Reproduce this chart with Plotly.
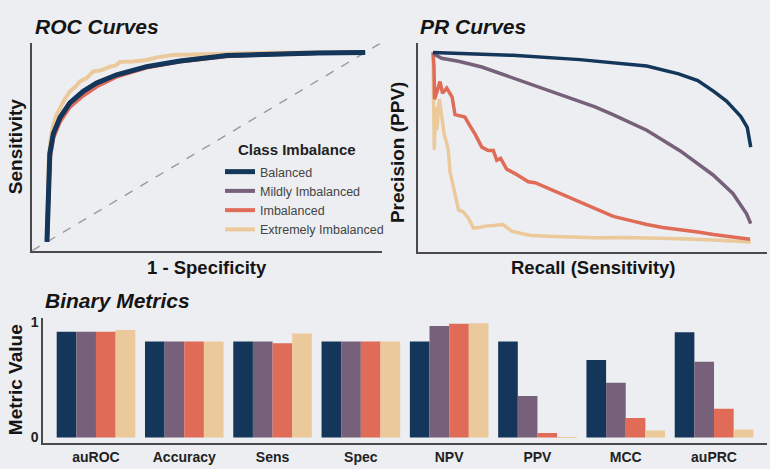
import plotly.graph_objects as go

# ---------------- data ----------------
series_names = ["Balanced", "Mildly Imbalanced", "Imbalanced", "Extremely Imbalanced"]
series_colors = ["#14365b", "#76607a", "#e06b57", "#ebc99b"]

# ROC curves (FPR, TPR)
roc_fpr_bal = [0, 0.002, 0.004, 0.009, 0.02, 0.041, 0.072, 0.114, 0.156, 0.219, 0.313, 0.418, 0.565, 0.69, 0.85, 1.0]
roc_tpr_bal = [0, 0.15, 0.29, 0.465, 0.57, 0.656, 0.734, 0.795, 0.839, 0.882, 0.925, 0.955, 0.983, 0.99, 0.997, 1.0]
roc_fpr_mild = [0, 0.002, 0.004, 0.009, 0.02, 0.041, 0.072, 0.114, 0.156, 0.219, 0.313, 0.418, 0.565, 0.69, 0.85, 1.0]
roc_tpr_mild = [0, 0.16, 0.30, 0.47, 0.575, 0.66, 0.735, 0.79, 0.835, 0.88, 0.923, 0.955, 0.982, 0.99, 0.997, 1.0]
roc_fpr_imb = [0, 0.002, 0.004, 0.009, 0.02, 0.041, 0.072, 0.114, 0.156, 0.19, 0.219, 0.313, 0.418, 0.565, 0.69, 0.85, 1.0]
roc_tpr_imb = [0, 0.14, 0.27, 0.44, 0.55, 0.635, 0.712, 0.772, 0.82, 0.85, 0.872, 0.92, 0.952, 0.98, 0.99, 0.997, 1.0]
roc_fpr_ext = [0, 0.003, 0.006, 0.012, 0.02, 0.03, 0.041, 0.055, 0.072, 0.09, 0.104, 0.125, 0.146, 0.17, 0.198,
               0.215, 0.23, 0.27, 0.313, 0.35, 0.397, 0.45, 0.565, 0.7, 0.87]
roc_tpr_ext = [0, 0.3, 0.45, 0.55, 0.62, 0.67, 0.708, 0.75, 0.795, 0.82, 0.847, 0.865, 0.9, 0.905, 0.925,
               0.93, 0.95, 0.952, 0.96, 0.975, 0.986, 0.988, 0.995, 0.998, 1.0]

# PR curves (Recall, Precision)
pr_rec_bal = [0, 0.1, 0.25, 0.46, 0.67, 0.77, 0.83, 0.88, 0.92, 0.94, 0.965, 0.985, 0.996]
pr_prec_bal = [1.0, 0.995, 0.985, 0.963, 0.93, 0.89, 0.855, 0.80, 0.75, 0.715, 0.67, 0.615, 0.513]
pr_rec_mild = [0, 0.01, 0.027, 0.08, 0.153, 0.257, 0.36, 0.46, 0.508, 0.564, 0.67, 0.774, 0.878, 0.94, 0.983, 0.996]
pr_prec_mild = [1.0, 0.985, 0.97, 0.955, 0.925, 0.865, 0.805, 0.75, 0.72, 0.68, 0.60, 0.495, 0.37, 0.275, 0.17, 0.12]
pr_rec_imb = [0, 0.003, 0.005, 0.012, 0.022, 0.03, 0.043, 0.053, 0.06, 0.069, 0.085, 0.10, 0.115, 0.132, 0.153,
              0.173, 0.189, 0.2, 0.212, 0.231, 0.257, 0.299, 0.32, 0.362, 0.414, 0.466, 0.508, 0.565, 0.62,
              0.67, 0.72, 0.774, 0.83, 0.879, 0.94, 0.994]
pr_prec_imb = [1.0, 0.93, 0.76, 0.80, 0.85, 0.79, 0.817, 0.79, 0.77, 0.68, 0.675, 0.668, 0.625, 0.58, 0.513,
               0.496, 0.496, 0.445, 0.455, 0.40, 0.377, 0.335, 0.33, 0.301, 0.262, 0.228, 0.20, 0.157, 0.135,
               0.115, 0.10, 0.09, 0.077, 0.064, 0.052, 0.039]
pr_rec_ext = [0, 0.002, 0.004, 0.008, 0.012, 0.02, 0.028, 0.035, 0.042, 0.048, 0.053, 0.06, 0.069, 0.075, 0.08,
              0.095, 0.11, 0.12, 0.126, 0.145, 0.163, 0.19, 0.22, 0.235, 0.247, 0.28, 0.309, 0.36, 0.42, 0.508,
              0.6, 0.67, 0.774, 0.88, 0.95, 0.996]
pr_prec_ext = [1.0, 0.80, 0.50, 0.72, 0.60, 0.76, 0.66, 0.58, 0.54, 0.50, 0.39, 0.34, 0.276, 0.23, 0.19,
               0.18, 0.15, 0.12, 0.098, 0.10, 0.107, 0.11, 0.115, 0.095, 0.081, 0.068, 0.059, 0.055, 0.052, 0.047,
               0.049, 0.047, 0.042, 0.035, 0.03, 0.025]

# Binary metrics
metrics = ["auROC", "Accuracy", "Sens", "Spec", "NPV", "PPV", "MCC", "auPRC"]
bar_bal = [0.915, 0.83, 0.83, 0.83, 0.83, 0.83, 0.67, 0.91]
bar_mild = [0.915, 0.83, 0.83, 0.83, 0.965, 0.36, 0.475, 0.655]
bar_imb = [0.915, 0.83, 0.815, 0.83, 0.985, 0.04, 0.17, 0.25]
bar_ext = [0.93, 0.83, 0.90, 0.83, 0.99, 0.005, 0.06, 0.07]
bar_ticks = [0, 1]
bar_ticktext = ["0", "1"]

# ---------------- figure ----------------
W, H = 770, 469
BG = "#eceef1"
FONT = "Liberation Sans, Arial, Helvetica, sans-serif"
AXCOL = "#4a4a4a"

def px(x):
    return x / W

def py(y):
    return 1 - y / H

fig = go.Figure()

# diagonal reference line on ROC
fig.add_trace(go.Scatter(x=[-0.047, 1.06], y=[-0.047, 1.06], mode="lines",
                         line=dict(color="#9a9a9a", width=1.4, dash="dash"),
                         showlegend=False, hoverinfo="skip", xaxis="x", yaxis="y"))

roc = [(roc_fpr_bal, roc_tpr_bal), (roc_fpr_mild, roc_tpr_mild),
       (roc_fpr_imb, roc_tpr_imb), (roc_fpr_ext, roc_tpr_ext)]
pr = [(pr_rec_bal, pr_prec_bal), (pr_rec_mild, pr_prec_mild),
      (pr_rec_imb, pr_prec_imb), (pr_rec_ext, pr_prec_ext)]
bars = [bar_bal, bar_mild, bar_imb, bar_ext]
roc_widths = [5, 4, 4, 4]

# draw order: extreme first, balanced on top
for i in [3, 2, 1, 0]:
    fig.add_trace(go.Scatter(x=roc[i][0], y=roc[i][1], mode="lines", name=series_names[i],
                             line=dict(color=series_colors[i], width=roc_widths[i]),
                             legendrank=i + 1, showlegend=True, xaxis="x", yaxis="y"))
for i in [3, 2, 1, 0]:
    fig.add_trace(go.Scatter(x=pr[i][0], y=pr[i][1], mode="lines", name=series_names[i],
                             line=dict(color=series_colors[i], width=3.5),
                             showlegend=False, xaxis="x2", yaxis="y2"))
for i in range(4):
    fig.add_trace(go.Bar(x=metrics, y=bars[i], name=series_names[i],
                         marker=dict(color=series_colors[i], line=dict(width=0)),
                         showlegend=False, xaxis="x3", yaxis="y3"))

noaxis = dict(showgrid=False, zeroline=False, showticklabels=False, ticks="",
              showline=True, linecolor=AXCOL, linewidth=1.5)

fig.update_layout(
    width=W, height=H,
    margin=dict(l=0, r=0, t=0, b=0),
    paper_bgcolor=BG, plot_bgcolor=BG,
    font=dict(family=FONT, color="#222"),
    barmode="group", bargap=0.11, bargroupgap=0,
    xaxis=dict(domain=[px(32), px(382)], range=[-0.047, 1.053], anchor="y", **noaxis),
    yaxis=dict(domain=[py(250), py(40)], range=[-0.047, 1.047], anchor="x", **noaxis),
    xaxis2=dict(domain=[px(418), px(767)], range=[-0.047, 1.047], anchor="y2", **noaxis),
    yaxis2=dict(domain=[py(251), py(40)], range=[-0.025, 1.046], anchor="x2", **noaxis),
    xaxis3=dict(domain=[px(43), px(767)], range=[-0.6, 7.6], anchor="y3",
                showgrid=False, zeroline=False, ticks="", showline=True,
                linecolor=AXCOL, linewidth=1.5, tickprefix="<b>", ticksuffix="</b>",
                tickfont=dict(size=14, color="#222", family=FONT)),
    yaxis3=dict(domain=[py(445), py(318)], range=[-0.05, 1.035], anchor="x3",
                showgrid=False, zeroline=False, ticks="", showline=True,
                linecolor=AXCOL, linewidth=1.5,
                tickvals=bar_ticks, ticktext=["<b>%s</b>" % t for t in bar_ticktext],
                tickfont=dict(size=14, color="#222", family=FONT)),
    legend=dict(x=px(220), y=py(155), xanchor="left", yanchor="top",
                bgcolor="rgba(0,0,0,0)", font=dict(size=12.5, color="#444", family=FONT),
                itemwidth=30, tracegroupgap=0),
)

ann = []
def add_text(text, x, y, size, xanchor="left", angle=0, color="#151515"):
    ann.append(dict(text=text, x=px(x), y=py(y), xref="paper", yref="paper",
                    xanchor=xanchor, yanchor="middle", showarrow=False, textangle=angle,
                    font=dict(size=size, color=color, family=FONT)))

add_text("<b><i>ROC Curves</i></b>", 33, 23, 21)
add_text("<b><i>PR Curves</i></b>", 418, 23, 21)
add_text("<b><i>Binary Metrics</i></b>", 43, 300, 21)
add_text("<b>1 - Specificity</b>", 207, 267, 18.5, xanchor="center")
add_text("<b>Recall (Sensitivity)</b>", 593, 267, 18.5, xanchor="center")
add_text("<b>Sensitivity</b>", 15, 145, 19, xanchor="center", angle=-90)
add_text("<b>Precision (PPV)</b>", 397, 150, 19, xanchor="center", angle=-90)
add_text("<b>Metric Value</b>", 15, 381, 19, xanchor="center", angle=-90)
add_text("<b>Class Imbalance</b>", 236, 147, 15, color="#222")
fig.update_layout(annotations=ann)

fig.write_html("out.html", config={"displayModeBar": False},
               post_script="document.body.style.margin='0px';")
